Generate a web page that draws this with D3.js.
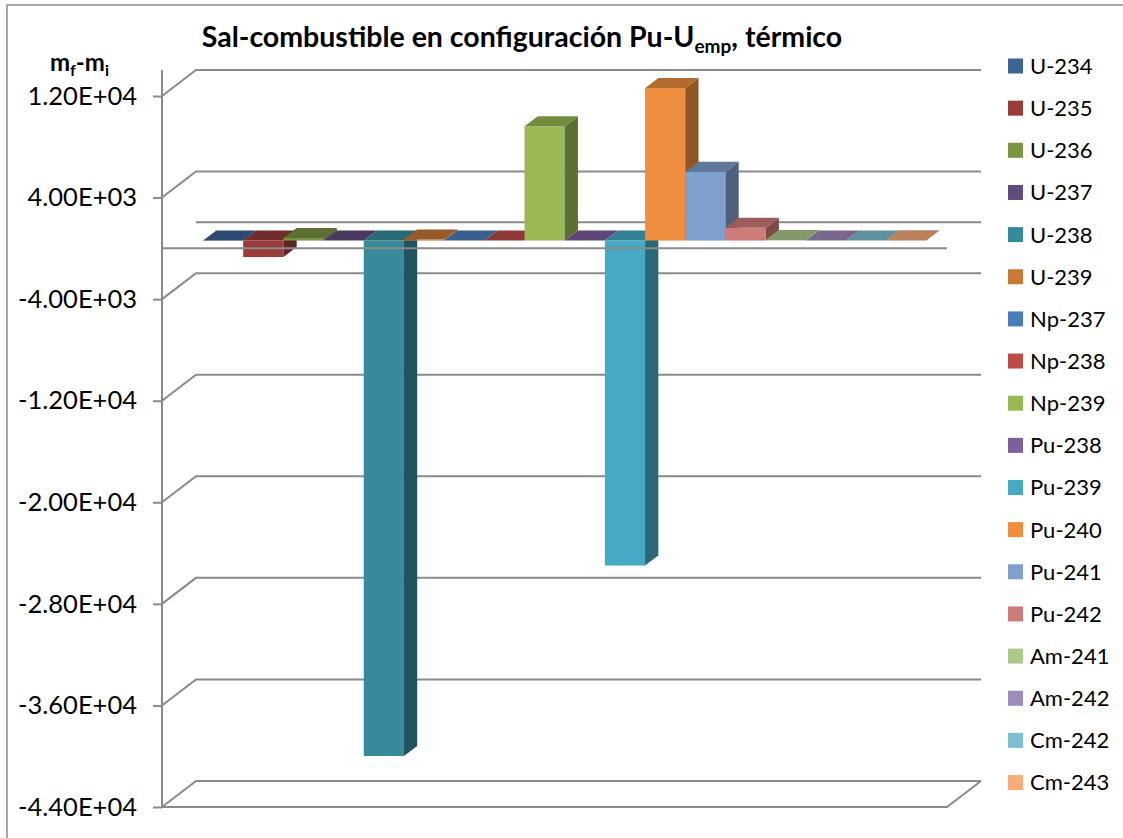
<!DOCTYPE html>
<html>
<head>
<meta charset="utf-8">
<script src="https://cdn.jsdelivr.net/npm/d3@7"></script>
<style>
  body { margin: 0; background: #fff; }
  svg { display: block; font-family: Lato, 'Noto Sans', sans-serif; }
</style>
</head>
<body>
<svg id="chart"></svg>
<script>
var isotopes = ['U-234', 'U-235', 'U-236', 'U-237', 'U-238', 'U-239', 'Np-237', 'Np-238', 'Np-239',
  'Pu-238', 'Pu-239', 'Pu-240', 'Pu-241', 'Pu-242', 'Am-241', 'Am-242', 'Cm-242', 'Cm-243'];
// m_f - m_i
var deltaMass = [-20, -1300, 200, 0, -40600, 80, 0, 0, 9000, 0, -25600, 12000, 5400, 1000, 40, 0, 0, 10];
var colors = ['#3C6497', '#983B39', '#7A9442', '#614A7E', '#378A9C', '#C77935', '#4A7EBB', '#BE4B48', '#98B954',
  '#7D5FA0', '#46AAC5', '#EE8E3E', '#7F9FCC', '#CF7B79', '#AFC98A', '#9D8BBA', '#7DBFD1', '#F9AB79'];
var yTicks = [12000, 4000, -4000, -12000, -20000, -28000, -36000, -44000];

var width = 1123,
  height = 838,
  plot = { left: 162, right: 947, top: 96, bottom: 807 },
  DX = 34, DY = -26,          // depth offset of the back wall
  t1 = 0.3, t2 = 0.69,        // depth of bar front / back faces
  gridColor = '#8a8a8a';

var svg = d3.select('#chart').attr('width', width).attr('height', height);

// chart area border
svg.append('rect')
  .attr('x', 7).attr('y', 5)
  .attr('width', width + 20).attr('height', height + 20)
  .attr('fill', 'none').attr('stroke', '#8c8c8c').attr('stroke-width', 1.5);

var yScale = d3.scaleLinear().domain([-44000, 12000]).range([plot.bottom, plot.top]);
var xScale = d3.scaleBand().domain(isotopes).range([plot.left, plot.right])
  .paddingInner(0).paddingOuter(0.767);

function P(x, v, t) { return [x + t * DX, yScale(v) + t * DY]; }

var grid = svg.append('g').attr('stroke', gridColor).attr('stroke-width', 2).attr('fill', 'none');

// back wall + left wall gridlines
yTicks.forEach(function (v) {
  grid.append('path').attr('d', d3.line()([P(plot.left, v, 0), P(plot.left, v, 1), P(plot.right, v, 1)]));
});
// floor front edge
var yMin = yTicks[yTicks.length - 1];
grid.append('path').attr('d', d3.line()([P(plot.left, yMin, 0), P(plot.right, yMin, 0), P(plot.right, yMin, 1)]));
// zero plane, back edge
grid.append('path').attr('d', d3.line()([P(plot.left, 0, 1), P(plot.right, 0, 1)]));

// bars, drawn left to right
var bars = svg.append('g');
isotopes.forEach(function (name, i) {
  var v = deltaMass[i],
    c = d3.color(colors[i]),
    x0 = xScale(name),
    x1 = x0 + xScale.bandwidth(),
    hi = Math.max(0, v),
    lo = Math.min(0, v),
    g = bars.append('g');

  // front face
  var a = P(x0, hi, t1), b = P(x1, lo, t1);
  g.append('rect')
    .attr('x', a[0]).attr('y', a[1])
    .attr('width', b[0] - a[0]).attr('height', Math.max(0, b[1] - a[1]))
    .attr('fill', c.formatHex());
  // right side face
  g.append('path')
    .attr('d', d3.line()([P(x1, hi, t1), P(x1, hi, t2), P(x1, lo, t2), P(x1, lo, t1)]) + 'Z')
    .attr('fill', c.darker(1.4).formatHex());
  // top face
  g.append('path')
    .attr('d', d3.line()([P(x0, hi, t1), P(x1, hi, t1), P(x1, hi, t2), P(x0, hi, t2)]) + 'Z')
    .attr('fill', c.darker(0.8).formatHex());
});

// zero plane, front edge (over the bars)
svg.append('path')
  .attr('d', d3.line()([P(plot.left, 0, 0), P(plot.right, 0, 0)]))
  .attr('stroke', gridColor).attr('stroke-width', 2).attr('fill', 'none');

// value axis
function sci(v) {
  var m = d3.format('.2e')(v).replace('\u2212', '-').split('e');
  var e = +m[1];
  return m[0] + 'E' + (e < 0 ? '-' : '+') + String(Math.abs(e)).padStart(2, '0');
}
var yAxis = d3.axisLeft(yScale).tickValues(yTicks).tickFormat(sci)
  .tickSizeInner(9).tickSizeOuter(0).tickPadding(16);
var ax = svg.append('g').attr('transform', 'translate(' + plot.left + ',0)').call(yAxis);
ax.select('.domain').remove();
ax.selectAll('.tick line').attr('stroke', gridColor).attr('stroke-width', 2);
ax.selectAll('.tick text').attr('font-family', 'Lato').attr('font-size', 25.5).attr('fill', '#000');
svg.append('line')
  .attr('x1', plot.left).attr('x2', plot.left)
  .attr('y1', yScale(yTicks[0]) + DY).attr('y2', yScale(yMin))
  .attr('stroke', gridColor).attr('stroke-width', 2);

// axis title
var at = svg.append('text').attr('x', 50).attr('y', 71)
  .attr('font-size', 24).attr('font-weight', 'bold');
at.append('tspan').text('m');
at.append('tspan').attr('font-size', 16).attr('dy', 5).text('f');
at.append('tspan').attr('dy', -5).text('-m');
at.append('tspan').attr('font-size', 16).attr('dy', 5).text('i');

// title
var tt = svg.append('text').attr('x', 522).attr('y', 47)
  .attr('text-anchor', 'middle').attr('font-size', 28.5).attr('font-weight', 'bold');
tt.append('tspan').text('Sal-combustible en configuración Pu-U');
tt.append('tspan').attr('font-size', 19).attr('dy', 6).text('emp');
tt.append('tspan').attr('dy', -6).text(', térmico');

// legend
var legend = svg.append('g').selectAll('g').data(isotopes).enter().append('g')
  .attr('transform', function (d, i) { return 'translate(1008,' + (66 + i * 42.15) + ')'; });
legend.append('rect').attr('x', 0).attr('y', -7.5).attr('width', 15).attr('height', 15)
  .attr('fill', function (d, i) { return colors[i]; });
legend.append('text').attr('x', 22).attr('dy', '0.36em').attr('font-size', 22)
  .text(function (d) { return d; });
</script>
</body>
</html>
